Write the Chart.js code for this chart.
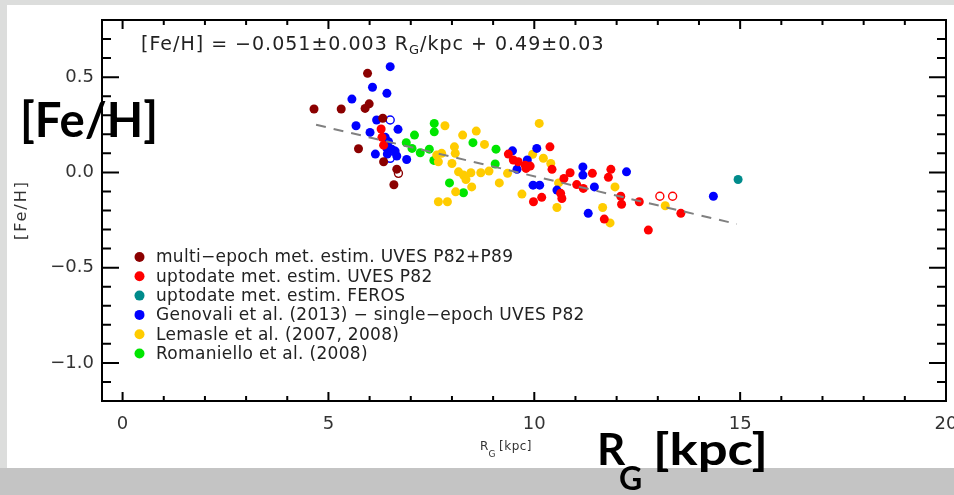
<!DOCTYPE html>
<html>
<head>
<meta charset="utf-8">
<script src="https://cdn.jsdelivr.net/npm/chart.js@4.4.1/dist/chart.umd.min.js"></script>
<style>
  html, body { margin: 0; padding: 0; background: #fff; }
  canvas { display: block; }
</style>
</head>
<body>
<canvas id="feh" width="954" height="495"></canvas>
<script>
// [Fe/H] vs galactocentric radius R_G

// multi-epoch met. estim. UVES P82+P89 (dark red)
const multiEpochR   = [5.95, 5.99, 5.89, 4.65, 5.31, 6.32, 5.73, 6.34, 6.66, 6.59];
const multiEpochFeH = [0.52, 0.36, 0.336, 0.333, 0.333, 0.284, 0.124, 0.056, 0.017, -0.065];
const multiEpochOpenR   = [6.70];
const multiEpochOpenFeH = [-0.005];

// uptodate met. estim. UVES P82 (red)
const uvesR   = [6.28, 6.30, 6.34, 9.37, 9.49, 9.61, 9.78, 9.90, 9.80, 10.38, 10.43, 9.98, 10.18,
                 10.64, 10.67, 10.87, 10.72, 11.03, 11.41, 11.86, 11.80, 11.19, 12.10, 12.12,
                 12.55, 13.56, 11.70, 12.77];
const uvesFeH = [0.228, 0.184, 0.143, 0.096, 0.065, 0.056, 0.038, 0.033, 0.021, 0.134, 0.016, -0.154, -0.131,
                 -0.11, -0.137, -0.002, -0.032, -0.064, -0.005, 0.016, -0.026, -0.084, -0.125, -0.167,
                 -0.154, -0.215, -0.245, -0.303];
const uvesOpenR   = [13.05, 13.36];
const uvesOpenFeH = [-0.125, -0.125];

// uptodate met. estim. FEROS (teal)
const ferosR   = [14.95];
const ferosFeH = [-0.037];

// Genovali et al. (2013) (blue)
const genovaliR   = [6.50, 6.07, 6.42, 5.57, 6.17, 5.67, 6.69, 6.01, 6.38, 6.46, 6.42, 6.54, 6.62, 6.14,
                     6.43, 6.66, 6.90, 9.47, 9.83, 9.58, 10.06, 9.97, 10.13, 10.55, 11.18, 11.18, 11.46,
                     12.24, 14.35, 11.31];
const genovaliFeH = [0.555, 0.447, 0.415, 0.385, 0.275, 0.245, 0.226, 0.21, 0.184, 0.161, 0.126, 0.121, 0.112, 0.096,
                     0.096, 0.086, 0.068, 0.113, 0.065, 0.016, 0.126, -0.067, -0.067, -0.093, 0.029, -0.014, -0.076,
                     0.003, -0.125, -0.215];
const genovaliOpenR   = [6.50, 6.50];
const genovaliOpenFeH = [0.275, 0.074];

// Lemasle et al. (2007, 2008) (yellow)
const lemasleR   = [7.83, 8.26, 8.59, 8.79, 10.12, 8.06, 8.08, 7.63, 7.75, 7.67, 8.00, 8.16, 8.28, 8.46,
                    8.34, 8.70, 8.90, 9.35, 9.15, 8.48, 8.09, 7.67, 7.89, 9.70, 9.96, 10.22, 10.40, 10.55,
                    10.59, 11.96, 13.18, 11.66, 11.84];
const lemasleFeH = [0.245, 0.196, 0.217, 0.147, 0.257, 0.134, 0.10, 0.091, 0.10, 0.056, 0.047, 0.003, -0.014, -0.002,
                    -0.037, -0.002, 0.007, -0.005, -0.055, -0.076, -0.102, -0.154, -0.154, -0.114, 0.095, 0.074, 0.047, -0.184,
                    -0.055, -0.076, -0.175, -0.184, -0.265];

// Romaniello et al. (2008) (green)
const romanielloR   = [7.57, 7.57, 7.09, 6.89, 7.03, 7.23, 7.45, 7.56, 8.51, 9.07, 9.05, 7.94, 8.28];
const romanielloFeH = [0.257, 0.213, 0.196, 0.156, 0.126, 0.103, 0.122, 0.063, 0.156, 0.122, 0.044, -0.055, -0.107];

// linear fit, drawn between the end points seen in the figure
const fitR   = [4.70, 14.92];
const fitFeH = [0.250, -0.271];

const legendLabels = [
  'multi\u2212epoch met. estim. UVES P82+P89',
  'uptodate met. estim. UVES P82',
  'uptodate met. estim. FEROS',
  'Genovali et al. (2013) \u2212 single\u2212epoch UVES P82',
  'Lemasle et al. (2007, 2008)',
  'Romaniello et al. (2008)'
];

const xMajorTicks = [0, 5, 10, 15, 20];
const xTickLabels = ['0', '5', '10', '15', '20'];
const yMajorTicks = [-1.0, -0.5, 0.0, 0.5];
const yTickLabels = ['\u22121.0', '\u22120.5', '0.0', '0.5'];
const xMinorTicks = [];
for (let v = 0; v <= 20; v += 1) xMinorTicks.push(v);
const yMinorTicks = [];
for (let k = -12; k <= 8; k++) yMinorTicks.push(k / 10);

const DARKRED = '#8b0000', RED = '#ff0000', TEAL = '#008b8b',
      BLUE = '#0000ff', GOLD = '#ffcc00', GREEN = '#00e600';

function pts(xs, ys) { return xs.map((x, i) => ({ x: x, y: ys[i] })); }

function filled(label, xs, ys, color) {
  return { label: label, data: pts(xs, ys), backgroundColor: color, borderColor: color,
           borderWidth: 0, pointRadius: 4.5, pointHoverRadius: 4.5 };
}
function open(xs, ys, color) {
  return { label: '', hideLegend: true, data: pts(xs, ys), backgroundColor: 'rgba(255,255,255,0)',
           borderColor: color, borderWidth: 1.4, pointRadius: 4, pointHoverRadius: 4 };
}

const pageBackground = {
  id: 'pageBackground',
  beforeDraw(chart) {
    const c = chart.ctx;
    c.save();
    c.fillStyle = '#dcdddc';
    c.fillRect(0, 0, 954, 495);
    c.fillStyle = '#ffffff';
    c.fillRect(7, 5, 947, 463);
    c.fillStyle = '#c4c4c4';
    c.fillRect(0, 468, 954, 27);
    c.restore();
  }
};

// IDL-style box with inward ticks on all four sides
const idlFrame = {
  id: 'idlFrame',
  afterDatasetsDraw(chart) {
    const { ctx, chartArea: a, scales: { x, y } } = chart;
    ctx.save();
    ctx.strokeStyle = '#000';
    ctx.lineWidth = 2;
    ctx.beginPath();
    xMinorTicks.forEach(v => {
      const len = xMajorTicks.includes(v) ? 9 : 5;
      const p = x.getPixelForValue(v);
      ctx.moveTo(p, a.bottom); ctx.lineTo(p, a.bottom - len);
      ctx.moveTo(p, a.top); ctx.lineTo(p, a.top + len);
    });
    yMinorTicks.forEach(v => {
      const major = yMajorTicks.some(m => Math.abs(m - v) < 1e-6);
      const len = major ? 17 : 9;
      const p = y.getPixelForValue(v);
      ctx.moveTo(a.left, p); ctx.lineTo(a.left + len, p);
      ctx.moveTo(a.right, p); ctx.lineTo(a.right - len, p);
    });
    ctx.stroke();
    ctx.strokeRect(a.left, a.top, a.right - a.left, a.bottom - a.top);
    ctx.restore();
  }
};

// draw text squeezed or stretched to a given width
function fitText(c, str, x, y, w) {
  const m = c.measureText(str).width;
  c.save();
  c.translate(x, y);
  c.scale(w / m, 1);
  c.fillText(str, 0, 0);
  c.restore();
}

const legendAndTitles = {
  id: 'legendAndTitles',
  afterDraw(chart) {
    const c = chart.ctx;
    c.save();
    // legend
    const shown = chart.data.datasets.filter(d => !d.hideLegend && !d.isFit);
    c.font = '17px "DejaVu Sans"';
    c.letterSpacing = '0.3px';
    c.textBaseline = 'middle';
    shown.forEach((d, i) => {
      const yy = 257 + i * 19.3;
      c.fillStyle = d.backgroundColor;
      c.beginPath();
      c.arc(139.5, yy, 5, 0, Math.PI * 2);
      c.fill();
      c.fillStyle = '#222';
      c.fillText(d.label, 156, yy + 1);
    });

    // fit equation
    c.textBaseline = 'alphabetic';
    c.letterSpacing = '1px';
    c.font = '19px "DejaVu Sans"';
    let px = 141;
    const part1 = '[Fe/H] = \u22120.051\u00b10.003 R';
    c.fillText(part1, px, 50);
    px += c.measureText(part1).width;
    c.font = '13px "DejaVu Sans"';
    c.fillText('G', px, 54);
    px += c.measureText('G').width;
    c.font = '19px "DejaVu Sans"';
    c.fillText('/kpc + 0.49\u00b10.03', px, 50);

    // axis titles
    c.fillStyle = '#333';
    c.letterSpacing = '2px';
    c.font = '16px "DejaVu Sans"';
    c.save();
    c.translate(26, 210);
    c.rotate(-Math.PI / 2);
    c.textAlign = 'center';
    c.fillText('[Fe/H]', 0, 0);
    c.restore();

    c.letterSpacing = '0.5px';
    c.font = '12px "DejaVu Sans"';
    c.fillText('R', 480, 450);
    c.font = '9px "DejaVu Sans"';
    c.fillText('G', 488.5, 457);
    c.font = '12px "DejaVu Sans"';
    c.fillText('[kpc]', 499, 450);

    // big slide labels
    c.letterSpacing = '0px';
    c.fillStyle = '#000';
    c.font = 'bold 48px Lato';
    fitText(c, '[Fe/H]', 20, 137, 138);
    c.font = 'bold 44px Lato';
    c.fillText('R', 597, 465);
    c.font = 'bold 32px Lato';
    c.fillText('G', 619, 490);
    c.font = 'bold 44px Lato';
    fitText(c, '[kpc]', 653, 465, 115);
    c.restore();
  }
};

const tickFont = { family: 'DejaVu Sans', size: 18 };

new Chart(document.getElementById('feh'), {
  type: 'scatter',
  data: {
    datasets: [
      { label: 'fit', isFit: true, hideLegend: true, type: 'line', data: pts(fitR, fitFeH),
        borderColor: '#808080', borderWidth: 2, borderDash: [10, 8], pointRadius: 0, fill: false },
      filled(legendLabels[0], multiEpochR, multiEpochFeH, DARKRED),
      filled(legendLabels[1], uvesR, uvesFeH, RED),
      filled(legendLabels[2], ferosR, ferosFeH, TEAL),
      filled(legendLabels[3], genovaliR, genovaliFeH, BLUE),
      filled(legendLabels[4], lemasleR, lemasleFeH, GOLD),
      filled(legendLabels[5], romanielloR, romanielloFeH, GREEN),
      open(multiEpochOpenR, multiEpochOpenFeH, DARKRED),
      open(uvesOpenR, uvesOpenFeH, RED),
      open(genovaliOpenR, genovaliOpenFeH, BLUE)
    ]
  },
  options: {
    responsive: false,
    devicePixelRatio: 1,
    animation: false,
    layout: { padding: { left: 0, top: 20, right: 8, bottom: 0 } },
    plugins: { legend: { display: false }, tooltip: { enabled: false } },
    scales: {
      x: {
        type: 'linear', min: -0.5, max: 20,
        grid: { display: false, drawTicks: false }, border: { display: false },
        afterBuildTicks: s => { s.ticks = xMajorTicks.map(v => ({ value: v })); },
        afterFit: s => { s.height = 94; s.paddingLeft = 0; s.paddingRight = 0; },
        ticks: { font: tickFont, color: '#333', padding: 13, maxRotation: 0, autoSkip: false,
                 callback: v => xTickLabels[xMajorTicks.indexOf(v)] }
      },
      y: {
        type: 'linear', min: -1.2, max: 0.8,
        grid: { display: false, drawTicks: false }, border: { display: false },
        afterBuildTicks: s => { s.ticks = yMajorTicks.map(v => ({ value: v })); },
        afterFit: s => { s.width = 102; s.paddingTop = 0; s.paddingBottom = 0; },
        ticks: { font: tickFont, color: '#333', padding: 8, autoSkip: false,
                 callback: v => yTickLabels[yMajorTicks.indexOf(v)] }
      }
    }
  },
  plugins: [pageBackground, idlFrame, legendAndTitles]
});
</script>
</body>
</html>
